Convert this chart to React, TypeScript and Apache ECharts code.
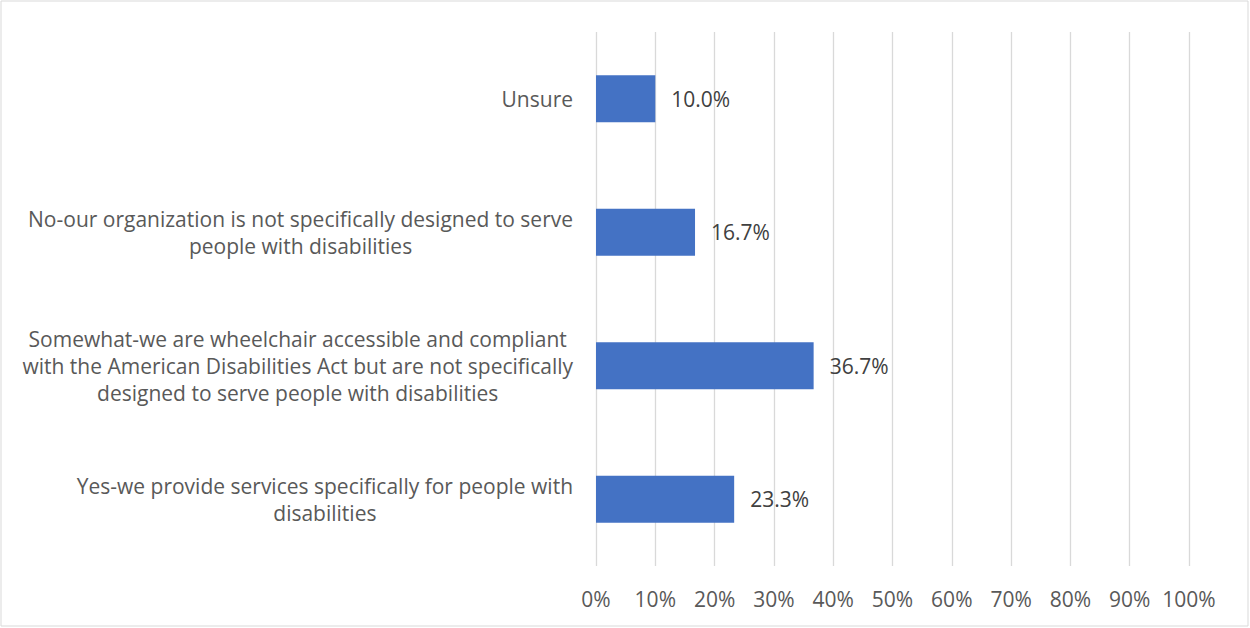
import React, { useEffect, useRef } from "react";
import * as echarts from "echarts";

const categories = [
  "Unsure",
  "No-our organization is not specifically designed to serve\npeople with disabilities",
  "Somewhat-we are wheelchair accessible and compliant\nwith the American Disabilities Act but are not specifically\ndesigned to serve people with disabilities",
  "Yes-we provide services specifically for people with\ndisabilities",
];
const values = [10.0, 16.7, 36.7, 23.3];

const FONT = "Open Sans";
const FS = 21;

export default function App() {
  const ref = useRef<HTMLDivElement>(null);
  useEffect(() => {
    document.body.style.margin = "0";
    const chart = echarts.init(ref.current!, null, { renderer: "svg" });
    chart.setOption({
      animation: false,
      backgroundColor: "#ffffff",
      grid: { left: 596, right: 61, top: 32, bottom: 62 },
      xAxis: {
        type: "value",
        min: 0,
        max: 100,
        interval: 10,
        axisLine: { show: false },
        axisTick: { show: false },
        splitLine: { show: true, lineStyle: { color: "#d9d9d9", width: 1.3 } },
        axisLabel: {
          formatter: "{value}%",
          color: "#595959",
          fontSize: FS,
          fontFamily: FONT,
          margin: 22,
        },
      },
      yAxis: {
        type: "category",
        data: categories,
        inverse: true,
        axisLine: { show: false },
        axisTick: { show: false },
        axisLabel: {
          color: "#595959",
          fontSize: FS,
          fontFamily: FONT,
          lineHeight: 27,
          margin: 23,
          align: "right",
          formatter: (v: string) =>
            v
              .split("\n")
              .map((l) => "{c|" + l + "}")
              .join("\n"),
          rich: {
            c: {
              align: "center",
              color: "#595959",
              fontSize: FS,
              fontFamily: FONT,
              lineHeight: 27,
            },
          },
        },
      },
      series: [
        {
          type: "bar",
          data: values,
          barWidth: 47,
          itemStyle: { color: "#4472C4" },
          label: {
            show: true,
            position: "right",
            distance: 16,
            formatter: (p: any) => p.value.toFixed(1) + "%",
            color: "#404040",
            fontSize: FS,
            fontFamily: FONT,
          },
        },
      ],
      graphic: [
        {
          type: "rect",
          shape: { x: 1, y: 1, width: 1247, height: 625 },
          style: { fill: "none", stroke: "#d9d9d9", lineWidth: 1 },
          silent: true,
        },
      ],
    });
    return () => chart.dispose();
  }, []);
  return (
    <div
      ref={ref}
      style={{ position: "absolute", left: 0, top: 0, width: 1250, height: 628 }}
    />
  );
}
